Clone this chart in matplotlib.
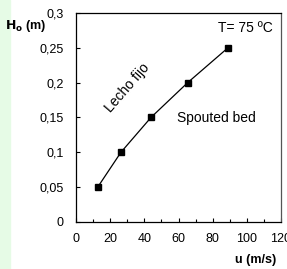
import matplotlib
matplotlib.use("Agg")
import matplotlib.pyplot as plt
from matplotlib.ticker import MultipleLocator, FuncFormatter

plt.rcParams['font.family'] = ['Liberation Sans', 'DejaVu Sans']

# datos
u = [12.7, 26.3, 43.9, 65.4, 89.0]
h0 = [0.05, 0.10, 0.15, 0.20, 0.25]

fig = plt.figure(figsize=(2.87, 2.69), dpi=100)
# franja verde a la izquierda
fig.patches.append(plt.Rectangle((0, 0), 0.035, 1, transform=fig.transFigure,
                                 color='#e6fbe6', zorder=0))

ax = fig.add_axes([0.265, 0.175, 0.714, 0.777])
ax.plot(u, h0, color='black', lw=0.9, marker='s', ms=5, mfc='black', mec='black')

ax.set_xlim(0, 120)
ax.set_ylim(0, 0.3)
ax.xaxis.set_major_locator(MultipleLocator(20))
ax.xaxis.set_minor_locator(MultipleLocator(10))
ax.yaxis.set_major_locator(MultipleLocator(0.05))

coma = FuncFormatter(lambda v, p: ('%g' % round(v, 2)).replace('.', ','))
ax.xaxis.set_major_formatter(coma)
ax.yaxis.set_major_formatter(coma)

ax.tick_params(direction='in', labelsize=9, length=3, width=0.8, pad=8)
ax.tick_params(which='minor', direction='in', length=2, width=0.8)
ax.tick_params(axis='y', pad=9)
for s in ax.spines.values():
    s.set_linewidth(0.9)
ax.spines['right'].set_color('#555555')

ax.text(0.96, 0.93, 'T= 75 ºC', transform=ax.transAxes, ha='right', va='center', fontsize=10)
ax.text(59, 0.149, 'Spouted bed', fontsize=10, ha='left', va='center')
ax.text(30, 0.192, 'Lecho fijo', fontsize=10, rotation=49, ha='center', va='center')

fig.text(0.088, 0.905, r'$\mathbf{H_o}$' + ' (m)', fontsize=9, fontweight='bold', ha='center', va='center')
fig.text(0.892, 0.033, 'u (m/s)', fontsize=9, fontweight='bold', ha='center', va='center')

plt.savefig('out.png', dpi=100)
